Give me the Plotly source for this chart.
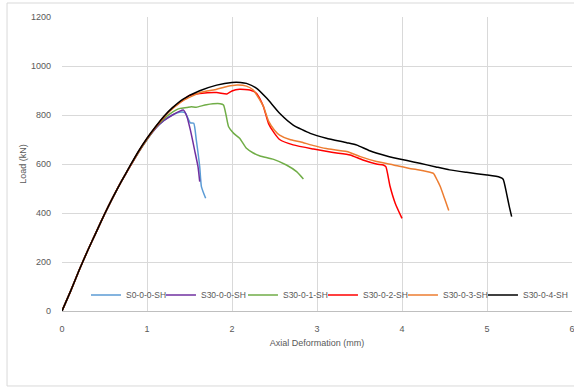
import plotly.graph_objects as go

# ---- data ----
names = ["S0-0-0-SH", "S30-0-0-SH", "S30-0-1-SH", "S30-0-2-SH", "S30-0-3-SH", "S30-0-4-SH"]
colors = ["#5B9BD5", "#7030A0", "#70AD47", "#FF0000", "#ED7D31", "#000000"]

s0_x = [0, 0.1, 0.2, 0.3, 0.4, 0.5, 0.6, 0.7, 0.8, 0.9, 1.0, 1.1, 1.2, 1.3, 1.4, 1.45, 1.51, 1.55, 1.58, 1.62, 1.64, 1.69]
s0_y = [0, 80, 165, 245, 320, 395, 465, 530, 590, 648, 700, 745, 778, 800, 812, 809, 768, 766, 698, 589, 508, 460]

s300_x = [0, 0.1, 0.2, 0.3, 0.4, 0.5, 0.6, 0.7, 0.8, 0.9, 1.0, 1.1, 1.2, 1.3, 1.38, 1.43, 1.47, 1.51, 1.56, 1.6, 1.62]
s300_y = [0, 80, 165, 245, 320, 395, 465, 530, 590, 648, 700, 745, 778, 800, 815, 820, 793, 739, 657, 589, 528]

s301_x = [0, 0.1, 0.2, 0.3, 0.4, 0.5, 0.6, 0.7, 0.8, 0.9, 1.0, 1.1, 1.2, 1.27, 1.35, 1.39, 1.47, 1.52, 1.58, 1.7, 1.86, 1.9, 1.93, 1.96, 2.02, 2.09, 2.17, 2.25, 2.33, 2.49, 2.64, 2.76, 2.84]
s301_y = [0, 80, 165, 245, 320, 395, 465, 530, 590, 648, 700, 748, 785, 805, 822, 827, 831, 834, 832, 842, 846, 841, 800, 752, 725, 705, 664, 645, 633, 619, 596, 569, 539]

s302_x = [0, 0.1, 0.2, 0.3, 0.4, 0.5, 0.6, 0.7, 0.8, 0.9, 1.0, 1.1, 1.2, 1.3, 1.43, 1.5, 1.62, 1.82, 1.94, 2.0, 2.09, 2.21, 2.29, 2.33, 2.37, 2.43, 2.5, 2.56, 2.72, 2.96, 3.19, 3.39, 3.54, 3.7, 3.78, 3.81, 3.86, 3.92, 4.0]
s302_y = [0, 80, 165, 245, 320, 395, 465, 530, 590, 650, 703, 750, 792, 828, 862, 880, 888, 892, 886, 898, 905, 902, 888, 865, 834, 765, 725, 700, 678, 661, 647, 637, 616, 600, 596, 589, 508, 440, 378]

s303_x = [0, 0.1, 0.2, 0.3, 0.4, 0.5, 0.6, 0.7, 0.8, 0.9, 1.0, 1.1, 1.2, 1.3, 1.43, 1.62, 1.82, 1.94, 2.06, 2.17, 2.25, 2.33, 2.37, 2.43, 2.5, 2.56, 2.68, 2.8, 2.95, 3.11, 3.35, 3.51, 3.7, 3.9, 4.09, 4.17, 4.33, 4.37, 4.42, 4.45, 4.5, 4.55]
s303_y = [0, 80, 165, 245, 320, 395, 465, 530, 591, 650, 704, 751, 794, 826, 860, 891, 905, 916, 922, 918, 902, 860, 835, 775, 738, 718, 700, 691, 676, 663, 651, 630, 610, 596, 582, 578, 566, 562, 530, 508, 460, 410]

s304_x = [0, 0.1, 0.2, 0.3, 0.4, 0.5, 0.6, 0.7, 0.8, 0.9, 1.0, 1.1, 1.2, 1.3, 1.43, 1.62, 1.82, 2.0, 2.1, 2.17, 2.29, 2.41, 2.56, 2.72, 2.92, 3.11, 3.35, 3.47, 3.62, 3.82, 4.06, 4.21, 4.4, 4.56, 4.76, 5.0, 5.15, 5.19, 5.23, 5.26, 5.29]
s304_y = [0, 80, 165, 245, 320, 395, 465, 530, 592, 652, 705, 752, 795, 830, 866, 899, 922, 933, 933, 929, 909, 868, 807, 759, 725, 705, 687, 677, 654, 633, 614, 603, 588, 576, 566, 555, 546, 538, 480, 430, 385]

xs = [s0_x, s300_x, s301_x, s302_x, s303_x, s304_x]
ys = [s0_y, s300_y, s301_y, s302_y, s303_y, s304_y]

x_ticks = [0, 1, 2, 3, 4, 5, 6]
y_ticks = [0, 200, 400, 600, 800, 1000, 1200]

FONT = "Liberation Sans, Arial"
TXT = "#595959"
GRID = "#D9D9D9"

# legend entry widths (px) so entries sit where the reference legend places them
legend_widths = [30, 37, 35, 35, 35, 50]

fig = go.Figure()
for n, c, x, y, lw in zip(names, colors, xs, ys, legend_widths):
    fig.add_trace(go.Scatter(x=x, y=y, name=n, mode="lines", legendwidth=lw,
                             line=dict(color=c, width=1.5, shape="spline", smoothing=0.5)))

fig.update_layout(
    width=574, height=387,
    margin=dict(l=62, r=2, t=17, b=76, autoexpand=False),
    paper_bgcolor="white", plot_bgcolor="white",
    font=dict(family=FONT, size=9, color=TXT),
    showlegend=True,
    legend=dict(orientation="h", x=0.047, y=0.054, xanchor="left", yanchor="middle",
                bgcolor="rgba(0,0,0,0)", itemwidth=30,
                font=dict(family=FONT, size=8.5, color=TXT), tracegroupgap=0),
    xaxis=dict(range=[0, 6], tickvals=x_ticks, ticktext=[str(v) for v in x_ticks],
               showgrid=True, gridcolor=GRID, gridwidth=1, zeroline=False,
               showline=True, linecolor="#BFBFBF", linewidth=1, ticks="",
               ticklabelstandoff=9, automargin=False, ticklabeloverflow="allow",
               title=dict(text="Axial Deformation (mm)", standoff=6,
                          font=dict(family=FONT, size=9, color=TXT))),
    yaxis=dict(range=[0, 1200], tickvals=y_ticks, ticktext=[str(v) for v in y_ticks],
               showgrid=True, gridcolor=GRID, gridwidth=1, zeroline=False,
               showline=False, ticks="", ticklabelstandoff=10, automargin=False,
               title=dict(text="Load (kN)", standoff=2,
                          font=dict(family=FONT, size=9, color=TXT))),
    shapes=[dict(type="rect", xref="paper", yref="paper",
                 x0=-0.1078, x1=1.02, y0=-0.255, y1=1.0476,
                 line=dict(color="#D9D9D9", width=1), fillcolor="rgba(0,0,0,0)", layer="below")],
)

fig.write_html("out.html", config={"displayModeBar": False},
               post_script="document.body.style.margin='0';")
